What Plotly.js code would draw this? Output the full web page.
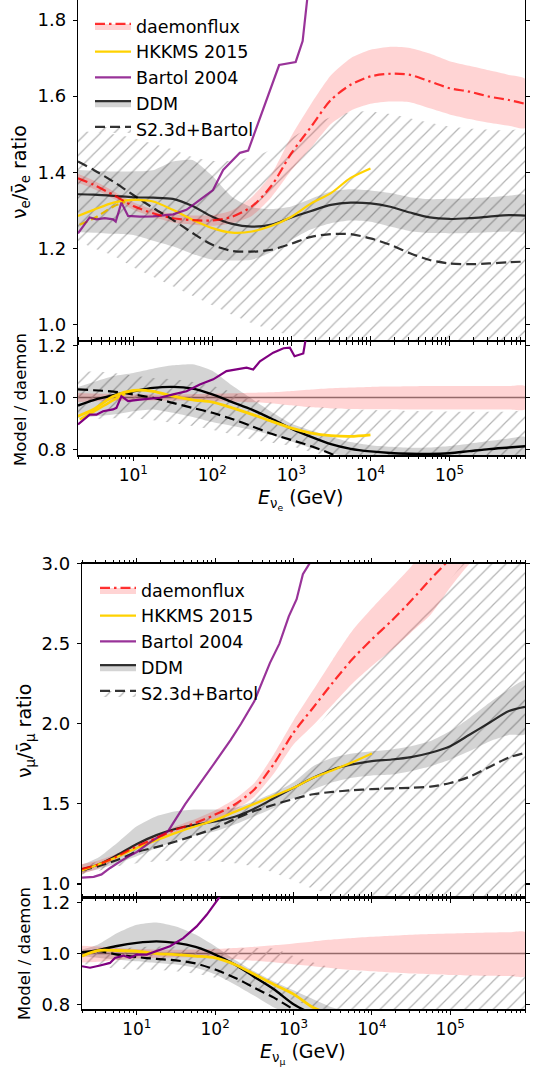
<!DOCTYPE html>
<html><head><meta charset="utf-8">
<script src="https://cdn.plot.ly/plotly-3.0.1.min.js"></script>
<style>body{margin:0;background:#fff}#plot{width:540px;height:1072px}</style>
</head><body><div id="plot"></div>
<script>
// ---------- shared energy grid (GeV) ----------
const E = [2,3.16,5.62,10,17.8,31.6,56.2,100,178,316,562,1000,1780,3160,5620,1e4,1.78e4,3.16e4,5.62e4,1e5,1.78e5,3.16e5,5.62e5,9e5];

// ---------- nu_e / nubar_e ratio ----------
const dmnE     = [1.384,1.367,1.34,1.311,1.292,1.279,1.274,1.273,1.283,1.31,1.365,1.45,1.52,1.59,1.63,1.652,1.659,1.656,1.639,1.621,1.612,1.599,1.59,1.58];
const dmnE_hi  = [1.396,1.378,1.35,1.321,1.302,1.29,1.286,1.287,1.30,1.335,1.395,1.495,1.58,1.655,1.70,1.722,1.73,1.727,1.712,1.692,1.68,1.668,1.656,1.646];
const dmnE_lo  = [1.372,1.356,1.33,1.301,1.282,1.268,1.262,1.259,1.266,1.285,1.335,1.405,1.465,1.527,1.562,1.58,1.586,1.584,1.568,1.552,1.54,1.53,1.522,1.516];
const ddmE     = [1.342,1.341,1.338,1.334,1.333,1.330,1.311,1.283,1.264,1.257,1.262,1.281,1.298,1.314,1.320,1.318,1.309,1.294,1.281,1.277,1.279,1.283,1.287,1.286];
const ddmE_hi  = [1.406,1.404,1.402,1.402,1.405,1.428,1.432,1.39,1.335,1.308,1.303,1.31,1.33,1.349,1.355,1.352,1.345,1.334,1.329,1.33,1.331,1.334,1.338,1.34];
const ddmE_lo  = [1.242,1.241,1.238,1.235,1.22,1.205,1.185,1.17,1.168,1.17,1.19,1.222,1.25,1.266,1.273,1.27,1.257,1.245,1.24,1.239,1.24,1.242,1.244,1.244];
const s2E      = [1.428,1.406,1.375,1.34,1.306,1.275,1.24,1.209,1.193,1.191,1.196,1.212,1.23,1.237,1.237,1.226,1.209,1.187,1.169,1.16,1.158,1.16,1.163,1.165];
const s2E_hi   = [1.51,1.505,1.5,1.49,1.475,1.46,1.44,1.43,1.43,1.44,1.46,1.49,1.52,1.545,1.558,1.56,1.553,1.542,1.53,1.52,1.515,1.512,1.51,1.51];
const s2E_lo   = [1.22,1.2,1.18,1.15,1.125,1.10,1.075,1.05,1.025,1.003,0.985,0.97,0.955,0.94,0.93,0.92,0.91,0.9,0.9,0.9,0.9,0.9,0.9,0.9];
const hkE      = [1.285,1.301,1.32,1.327,1.323,1.301,1.275,1.253,1.241,1.244,1.259,1.283,1.318,1.345,1.385,1.41];
const hk2E_x   = [2.1,3.16,5.62,7.9];
const hk2E     = [1.262,1.278,1.31,1.322];
const btE_x    = [2,2.81,3.42,4.36,5.55,6.0,7.08,8.6,12.1,17.8,31.9,47.1,69.5,102,137,166,223,284,417,700,1132,1387,1581,1778];
const btE      = [1.239,1.281,1.276,1.279,1.276,1.27,1.32,1.285,1.283,1.284,1.289,1.301,1.327,1.353,1.406,1.424,1.451,1.457,1.555,1.682,1.69,1.745,1.853,1.95];

// ---------- nu_e ratio to daemonflux ----------
const r1_dmn_hi = [1.017,1.015,1.013,1.012,1.012,1.012,1.013,1.014,1.016,1.018,1.02,1.025,1.031,1.036,1.039,1.041,1.042,1.043,1.044,1.044,1.044,1.044,1.044,1.044];
const r1_dmn_lo = [0.983,0.985,0.987,0.988,0.988,0.988,0.987,0.986,0.984,0.982,0.977,0.97,0.962,0.958,0.956,0.955,0.955,0.954,0.954,0.954,0.954,0.954,0.954,0.954];
const r1_ddm    = [0.969,0.99,1.009,1.024,1.037,1.041,1.034,1.012,0.982,0.953,0.918,0.88,0.848,0.82,0.802,0.792,0.786,0.783,0.782,0.785,0.793,0.801,0.807,0.812];
const r1_ddm_hi = [1.041,1.06,1.083,1.095,1.111,1.124,1.128,1.103,1.046,0.995,0.944,0.899,0.873,0.849,0.828,0.816,0.81,0.806,0.807,0.813,0.822,0.832,0.842,0.848];
const r1_ddm_lo = [0.921,0.927,0.934,0.947,0.954,0.941,0.925,0.905,0.89,0.875,0.855,0.83,0.805,0.785,0.77,0.765,0.762,0.76,0.76,0.76,0.762,0.765,0.768,0.77];
const r1_s2     = [1.031,1.028,1.023,1.012,0.999,0.979,0.96,0.941,0.917,0.889,0.86,0.836,0.812,0.783,0.75];
const r1_s2_hi  = [1.10,1.10,1.095,1.085,1.075,1.07,1.06,1.045,1.02,0.995,0.98,0.97,0.965,0.96,0.955,0.952,0.95,0.948,0.947,0.946,0.945,0.945,0.945,0.945];
const r1_s2_lo  = [0.915,0.917,0.92,0.92,0.912,0.902,0.89,0.876,0.858,0.838,0.825,0.812,0.79,0.77,0.7,0.7,0.7,0.7,0.7,0.7,0.7,0.7,0.7,0.7];
const r1_hk     = [0.928,0.955,1.005,1.027,1.024,1.005,0.991,0.982,0.96,0.935,0.908,0.882,0.863,0.853,0.85,0.856];
const r1_hk2    = [0.915,0.945,0.99,1.015];
const r1_bt_x   = [2,2.81,3.42,4.15,5.55,6.12,7.08,8.59,12.1,21.7,32,47.2,69.5,102.6,151,202,271,329,400,589,794,955,1096,1413,1585];
const r1_bt     = [0.896,0.934,0.934,0.947,0.954,0.96,1.005,0.986,0.992,0.999,1.012,1.024,1.05,1.07,1.102,1.108,1.115,1.108,1.14,1.173,1.19,1.192,1.159,1.17,1.26];

// ---------- nu_mu / nubar_mu ratio ----------
const dmnM     = [1.094,1.12,1.173,1.235,1.288,1.34,1.381,1.433,1.496,1.59,1.75,1.944,2.10,2.256,2.402,2.527,2.642,2.767,2.902,3.03,3.16];
const dmnM_hi  = [1.125,1.145,1.19,1.25,1.305,1.36,1.405,1.46,1.53,1.63,1.81,2.02,2.21,2.40,2.58,2.72,2.85,2.98,3.13];
const dmnM_lo  = [1.063,1.095,1.155,1.22,1.271,1.32,1.357,1.405,1.46,1.545,1.69,1.87,1.99,2.12,2.25,2.36,2.46,2.57,2.68,2.85,3.0,3.1];
const ddmM     = [1.092,1.12,1.18,1.25,1.305,1.345,1.37,1.39,1.42,1.47,1.535,1.60,1.663,1.715,1.746,1.767,1.777,1.792,1.819,1.86,1.933,2.006,2.079,2.105];
const ddmM_hi  = [1.121,1.162,1.256,1.36,1.423,1.454,1.465,1.465,1.475,1.517,1.569,1.635,1.735,1.788,1.815,1.829,1.84,1.86,1.892,1.954,2.038,2.131,2.215,2.27];
const ddmM_lo  = [1.069,1.09,1.131,1.173,1.225,1.267,1.302,1.329,1.371,1.423,1.475,1.535,1.59,1.635,1.663,1.677,1.683,1.704,1.735,1.777,1.83,1.89,1.93,1.935];
const s2M      = [1.085,1.11,1.15,1.20,1.23,1.265,1.305,1.35,1.405,1.455,1.495,1.53,1.56,1.575,1.585,1.592,1.597,1.60,1.608,1.63,1.67,1.73,1.79,1.818];
const s2M_hi   = [1.11,1.14,1.19,1.25,1.30,1.34,1.38,1.43,1.49,1.58,1.70,1.82,1.95,2.1,2.23,2.36,2.48,2.62,2.76,2.9,3.05,3.2,3.35,3.45];
const s2M_lo   = [1.06,1.08,1.11,1.13,1.14,1.145,1.145,1.14,1.13,1.11,1.07,1.02,0.97,0.93,0.9,0.9,0.9,0.9,0.9,0.9,0.9,0.9,0.9,0.9];
const hkM      = [1.085,1.12,1.169,1.225,1.273,1.319,1.36,1.40,1.45,1.50,1.55,1.60,1.663,1.71,1.76,1.815];
const btM_x    = [2,2.82,3.55,4.57,7.08,10,15.8,25.1,41.7,63.1,100,158,214,316,398,501,661,871,1096,1318,1698];
const btM      = [1.04,1.045,1.06,1.10,1.16,1.20,1.27,1.33,1.50,1.62,1.76,1.90,2.0,2.14,2.256,2.38,2.5,2.67,2.777,2.933,3.02];

// ---------- nu_mu ratio to daemonflux ----------
const r2_dmn_hi = [1.031,1.028,1.022,1.018,1.016,1.015,1.016,1.018,1.022,1.027,1.033,1.04,1.048,1.055,1.061,1.066,1.07,1.074,1.077,1.079,1.081,1.083,1.084,1.085];
const r2_dmn_lo = [0.965,0.968,0.975,0.98,0.983,0.985,0.984,0.982,0.978,0.972,0.966,0.958,0.95,0.942,0.935,0.93,0.925,0.921,0.918,0.915,0.913,0.912,0.911,0.91];
const r2_ddm    = [1.005,1.013,1.03,1.042,1.048,1.042,1.026,0.996,0.957,0.908,0.859,0.80,0.76];
const r2_ddm_hi = [1.016,1.035,1.081,1.114,1.123,1.107,1.075,1.029,0.976,0.93,0.89,0.855,0.82,0.787,0.76];
const r2_ddm_lo = [0.99,0.983,0.976,0.97,0.963,0.957,0.944,0.918,0.878,0.833,0.787,0.754,0.72,0.7,0.7];
const r2_s2     = [0.992,1.009,0.996,0.986,0.979,0.973,0.961,0.937,0.905,0.865,0.826,0.78,0.74];
const r2_s2_hi  = [1.0,1.01,1.02,1.025,1.028,1.028,1.025,1.02,1.02,1.022,1.02,0.99,0.965,0.945,0.932,0.925,0.92,0.918,0.916,0.915,0.915,0.915,0.915,0.915];
const r2_s2_lo  = [0.96,0.95,0.94,0.937,0.935,0.93,0.92,0.905,0.89,0.865,0.84,0.815,0.79,0.76,0.74,0.7,0.7,0.7,0.7,0.7,0.7,0.7,0.7,0.7];
const r2_hk     = [0.99,1.012,1.012,1.009,1.0,0.996,0.99,0.983,0.957,0.918,0.878,0.84,0.787,0.76];
const r2_bt_x   = [2,2.53,3.40,4.55,5.27,6.73,8.18,9.98,13.4,17.9,26.5,39.2,58.1,78.0,100,115];
const r2_bt     = [0.95,0.944,0.953,0.963,0.983,0.992,0.983,0.996,0.996,1.009,1.029,1.061,1.107,1.153,1.199,1.225];

// ---------- ticks ----------
const yticks1 = [1.0,1.2,1.4,1.6,1.8];
const yticksR = [0.8,1.0,1.2];
const yticks3 = [1.0,1.5,2.0,2.5,3.0];
const xtickvals = [10,100,1000,1e4,1e5];
const xticktext = ['10<sup>1</sup>','10<sup>2</sup>','10<sup>3</sup>','10<sup>4</sup>','10<sup>5</sup>'];
const xminor = [];
[1,10,100,1000,1e4,1e5].forEach(d => [2,3,4,5,6,7,8,9].forEach(k => xminor.push(k*d)));

// ---------- styles ----------
const FONT = '"DejaVu Sans", sans-serif';
const RED = 'rgba(255,0,0,0.8)', PINK = 'rgba(255,0,0,0.17)', GREYB = 'rgba(0,0,0,0.17)';
const GOLD = '#FFD200', PURPLE_T = 'rgba(128,0,128,0.8)', PURPLE = '#800080';
const BLK_T = 'rgba(0,0,0,0.8)';
const HATCH = {shape:'/', fgcolor:'#b4b4b4', bgcolor:'rgba(0,0,0,0)', size:10, solidity:0.12};
const DASHDOT = '10px,4px,2.5px,4px', DASH = '10px,5px';

function sub(arr, n){ return arr.slice(0, n); }
function line(x, y, ax, lineStyle, extra){
  return Object.assign({type:'scatter', mode:'lines', x:sub(x,y.length), y:y, xaxis:'x'+ax, yaxis:'y'+ax,
    hoverinfo:'skip', showlegend:false, line:Object.assign({shape:'spline', smoothing:0.8}, lineStyle)}, extra||{});
}
function band(x, hi, lo, ax, fill, pattern){
  const xh = sub(x,hi.length), xl = sub(x,lo.length).reverse();
  const t = {type:'scatter', mode:'lines', x:xh.concat(xl), y:hi.concat(lo.slice().reverse()),
    fill:'toself', fillcolor:fill, line:{width:0, shape:'spline', smoothing:0.6},
    xaxis:'x'+ax, yaxis:'y'+ax, hoverinfo:'skip', showlegend:false};
  if (pattern) t.fillpattern = pattern;
  return t;
}
// line with a band-coloured legend key (zero-area fill onto an identical hidden copy)
function keyed(x, y, ax, lineStyle, name, fill, pattern, legend, rank){
  const ghost = line(x, y, ax, {width:0});
  const t = line(x, y, ax, lineStyle, {name:name, showlegend:true, legend:legend, legendrank:rank,
    fill:'tonexty', fillcolor:fill});
  if (pattern) t.fillpattern = pattern;
  return [ghost, t];
}

const traces = [];
// panel 1
traces.push(band(E, s2E_hi, s2E_lo, 1, 'rgba(0,0,0,0)', HATCH));
traces.push(band(E, ddmE_hi, ddmE_lo, 1, GREYB));
traces.push(band(E, dmnE_hi, dmnE_lo, 1, PINK));
traces.push(...keyed(E, s2E, 1, {color:BLK_T, width:2.2, dash:DASH}, 'S2.3d+Bartol', 'rgba(0,0,0,0)', HATCH, 'legend', 5));
traces.push(...keyed(E, ddmE, 1, {color:BLK_T, width:2.2}, 'DDM', GREYB, null, 'legend', 4));
traces.push(line(E, hkE, 1, {color:GOLD, width:2.2}, {name:'HKKMS 2015', showlegend:true, legend:'legend', legendrank:2}));
traces.push(line(hk2E_x, hk2E, 1, {color:'#E6B800', width:2.2, dash:'8px,4px'}));
traces.push(line(btE_x, btE, 1, {color:PURPLE_T, width:2.2, shape:'linear'}, {name:'Bartol 2004', showlegend:true, legend:'legend', legendrank:3}));
traces.push(...keyed(E, dmnE, 1, {color:RED, width:2.2, dash:DASHDOT}, 'daemonflux', PINK, null, 'legend', 1));
// panel 2
traces.push(band(E, r1_s2_hi, r1_s2_lo, 2, 'rgba(0,0,0,0)', HATCH));
traces.push(band(E, r1_ddm_hi, r1_ddm_lo, 2, GREYB));
traces.push(band(E, r1_dmn_hi, r1_dmn_lo, 2, PINK));
traces.push(line(E, r1_s2, 2, {color:'black', width:2.2, dash:DASH}));
traces.push(line(E, r1_ddm, 2, {color:'black', width:2.4}));
traces.push(line(E, r1_hk, 2, {color:GOLD, width:2.8}));
traces.push(line(hk2E_x, r1_hk2, 2, {color:GOLD, width:2.4}));
traces.push(line(r1_bt_x, r1_bt, 2, {color:PURPLE, width:2.2, shape:'linear'}));
// panel 3
traces.push(band(E, s2M_hi, s2M_lo, 3, 'rgba(0,0,0,0)', HATCH));
traces.push(band(E, ddmM_hi, ddmM_lo, 3, GREYB));
traces.push(band(E, dmnM_hi, dmnM_lo, 3, PINK));
traces.push(...keyed(E, s2M, 3, {color:BLK_T, width:2.2, dash:DASH}, 'S2.3d+Bartol', 'rgba(0,0,0,0)', HATCH, 'legend2', 5));
traces.push(...keyed(E, ddmM, 3, {color:BLK_T, width:2.2}, 'DDM', GREYB, null, 'legend2', 4));
traces.push(line(E, hkM, 3, {color:GOLD, width:2.2}, {name:'HKKMS 2015', showlegend:true, legend:'legend2', legendrank:2}));
traces.push(line(btM_x, btM, 3, {color:PURPLE_T, width:2.2, shape:'linear'}, {name:'Bartol 2004', showlegend:true, legend:'legend2', legendrank:3}));
traces.push(...keyed(E, dmnM, 3, {color:RED, width:2.2, dash:DASHDOT}, 'daemonflux', PINK, null, 'legend2', 1));
// panel 4
traces.push(band(E, r2_s2_hi, r2_s2_lo, 4, 'rgba(0,0,0,0)', HATCH));
traces.push(band(E, r2_ddm_hi, r2_ddm_lo, 4, GREYB));
traces.push(band(E, r2_dmn_hi, r2_dmn_lo, 4, PINK));
traces.push(line(E, r2_s2, 4, {color:'black', width:2.2, dash:DASH}));
traces.push(line(E, r2_ddm, 4, {color:'black', width:2.4}));
traces.push(line(E, r2_hk, 4, {color:GOLD, width:2.8}));
traces.push(line(r2_bt_x, r2_bt, 4, {color:PURPLE, width:2.2, shape:'linear'}));

// ---------- layout ----------
const W = 540, H = 1072;
const fx = p => p / W, fy = p => 1 - p / H;
const XR = [Math.log10(2), Math.log10(9e5)];
const panels = [
  {xd:[fx(78), fx(525)], yd:[fy(341), fy(0)],      yr:[0.956, 1.853], yt:yticks1, xlab:false},
  {xd:[fx(78), fx(525)], yd:[fy(455.3), fy(341)],  yr:[0.777, 1.218], yt:yticksR, xlab:true},
  {xd:[fx(82), fx(525)], yd:[fy(897.3), fy(563.5)],yr:[0.917, 3.0],   yt:yticks3, xlab:false},
  {xd:[fx(82), fx(525)], yd:[fy(1009.3), fy(897.3)],yr:[0.78, 1.222], yt:yticksR, xlab:true},
];
const LEGFONT = {family:FONT, size:17.5, color:'black'};
const layout = {
  width:W, height:H, margin:{l:0,r:0,t:0,b:0}, paper_bgcolor:'white', plot_bgcolor:'rgba(0,0,0,0)',
  font:{family:FONT, size:17, color:'black'}, showlegend:true,
  legend:{x:fx(90), y:fy(8), xanchor:'left', yanchor:'top', bgcolor:'rgba(0,0,0,0)', font:LEGFONT, itemwidth:36, traceorder:'normal'},
  legend2:{x:fx(95), y:fy(572), xanchor:'left', yanchor:'top', bgcolor:'rgba(0,0,0,0)', font:LEGFONT, itemwidth:36, traceorder:'normal'},
  shapes:[], annotations:[]
};
panels.forEach((p, i) => {
  const n = i + 1, o = i + 5;
  const common = {type:'log', range:XR, tickmode:'array', tickvals:xtickvals, ticktext:xticktext,
    showgrid:false, zeroline:false, tickcolor:'black', tickwidth:1.2, ticklen:4,
    tickfont:{family:FONT, size:17, color:'black'}};
  layout['xaxis'+n] = Object.assign({}, common, {domain:p.xd, anchor:'y'+n, showline:true, linecolor:'black', linewidth:1.3,
    mirror:'allticks', ticks:'outside', showticklabels:p.xlab,
    minor:{tickmode:'array', tickvals:xminor, ticks:'outside', ticklen:2.5, tickwidth:1, tickcolor:'black', showgrid:false}});
  layout['xaxis'+o] = Object.assign({}, common, {overlaying:'x'+n, anchor:'y'+o, showline:false,
    mirror:'allticks', ticks:'inside', showticklabels:false,
    minor:{tickmode:'array', tickvals:xminor, ticks:'inside', ticklen:2.5, tickwidth:1, tickcolor:'black', showgrid:false}});
  const ycommon = {range:p.yr, tickmode:'array', tickvals:p.yt, tickformat:'.1f', showgrid:false, zeroline:false,
    tickcolor:'black', tickwidth:1.2, ticklen:4, tickfont:{family:FONT, size:18, color:'black'}};
  layout['yaxis'+n] = Object.assign({}, ycommon, {domain:p.yd, anchor:'x'+n, showline:true, linecolor:'black', linewidth:1.3,
    mirror:'allticks', ticks:'outside', ticklabelstandoff:3});
  layout['yaxis'+o] = Object.assign({}, ycommon, {overlaying:'y'+n, anchor:'x'+o, showline:false,
    mirror:'allticks', ticks:'inside', showticklabels:false});
});
// unity reference line in ratio panels
[2,4].forEach(n => layout.shapes.push({type:'line', xref:'x'+n+' domain', x0:0, x1:1, yref:'y'+n, y0:1, y1:1,
  line:{color:'#808080', width:1.5}, layer:'below'}));
const ann = (text, x, y, rot, size) => ({text:text, x:fx(x), y:fy(y), xref:'paper', yref:'paper', showarrow:false,
  textangle:rot, xanchor:'center', yanchor:'middle', font:{family:FONT, size:size, color:'black'}});
layout.annotations.push(ann('ν<sub>e</sub>/ν̄<sub>e</sub> ratio', 21, 172, -90, 19));
layout.annotations.push(ann('Model / daemon', 21, 400, -90, 16.5));
layout.annotations.push(ann('ν<sub>μ</sub>/ν̄<sub>μ</sub> ratio', 25, 731, -90, 19));
layout.annotations.push(ann('Model / daemon', 24, 954, -90, 16.5));
layout.annotations.push(ann('<i>E</i><sub>ν<sub>e</sub></sub> (GeV)', 300, 499, 0, 19));
layout.annotations.push(ann('<i>E</i><sub>ν<sub>μ</sub></sub> (GeV)', 303, 1053, 0, 19));

Plotly.newPlot('plot', traces, layout, {staticPlot:true, displayModeBar:false});
</script></body></html>
